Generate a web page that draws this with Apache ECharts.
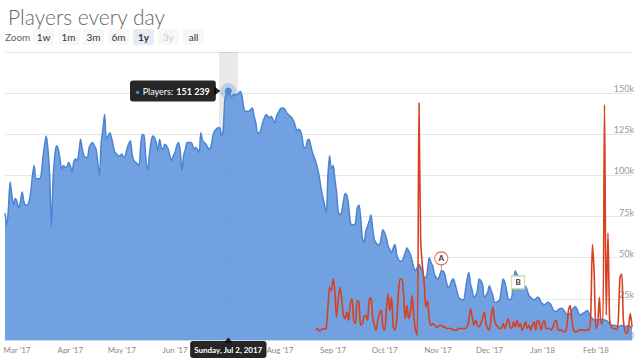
<!DOCTYPE html>
<html><head><meta charset="utf-8">
<script src="https://cdn.jsdelivr.net/npm/echarts@6/dist/echarts.min.js"></script>
<style>html,body{margin:0;padding:0;background:#fff}#c{width:640px;height:362px}</style>
</head><body><div id="c"></div>
<script>
// ---------- data ----------
const startDate = '2017-02-22';   // first day shown (1y range)
const players = [
77000,70000,80000,96000,88000,82000,86000,84000,80000,84000,
90000,84000,82000,82000,84000,90000,100000,106000,98000,98000,
98000,100000,110000,118000,124000,116000,100000,69000,98000,112000,
118000,116000,110000,104000,106000,105000,105000,108000,106000,102000,
108000,110000,109000,114000,122000,116000,112000,111000,111000,117000,
119000,120000,118000,116000,108000,100000,120000,128000,137000,122000,
124000,126000,123000,118000,114000,113000,112000,112000,113000,111000,
112000,116000,119000,121000,113000,109000,108000,107000,106000,118000,
125000,124000,110000,103000,112000,120000,124000,123000,120000,115000,
122000,117000,116000,119000,118000,116000,112000,109000,112000,114000,
118000,120000,115000,103000,112000,116000,120000,120000,120000,119000,
116000,117000,116000,114000,126000,121000,120000,119000,117000,116000,
118000,124000,127000,128000,129000,129000,124000,127000,146000,150000,
151239,149000,148000,149000,149000,149000,150000,151000,148000,141000,
139000,139000,139000,140000,141000,136000,132000,126000,126000,128000,
132000,135000,137000,136000,135000,136000,134000,132000,136000,138000,
140000,141000,141000,140000,138000,137000,136000,135000,133000,130000,
127000,128000,127000,123000,117000,117000,121000,122000,118000,114000,
111000,108000,104000,99000,92000,87000,82000,77000,100000,112000,
104000,106000,98000,90000,78000,76000,78000,84000,89000,88000,
82000,72000,70000,70000,71000,80000,82000,75000,62000,59000,
66000,69000,72000,76000,68000,61000,59000,58000,58000,62000,
67000,65000,62000,57000,55000,53000,56000,58000,52000,49000,
48000,48000,50000,53000,56000,54000,52000,48000,44000,42000,
44000,46000,44000,42000,38000,38000,43000,50000,47000,45000,
40000,38000,37000,39000,42000,42000,40000,35000,32000,33000,
36000,37000,34000,30000,26000,25000,24500,24500,30000,37000,
41000,34000,30000,26000,27000,30000,37000,36000,34000,26000,
27000,29000,33000,30000,27000,23000,23000,23500,24500,31000,
37000,35000,30000,25000,24500,26000,34000,42000,40000,37500,
37000,36000,32000,32500,30000,27000,26000,25000,24500,25000,
26000,25500,23000,22000,21500,22000,23000,22500,21000,18500,
17500,17500,18300,19000,19300,18500,17000,15500,15500,16300,
18000,19500,20300,18800,16000,15200,16000,16500,17300,18000,
16000,14200,13000,12200,12500,12200,12500,12600,12400,12200,
11800,11200,10000,9000,9000,9000,8500,8000,8500,9000,
8500,8000,8500,9000,8000,7000
];
const viewersStartDate = '2017-08-22';
const viewers = [
6000,7000,5500,6000,7000,6500,7000,20000,32000,30000,
37000,30000,14000,25000,32000,25000,15000,13000,17000,12000,
22000,25000,12000,10000,24000,23000,9000,10000,14000,15000,
12000,24000,26000,14000,9000,6000,12000,16000,18000,8000,
6000,18000,28000,18000,26000,8000,6000,12000,28000,37000,
37000,28000,13000,21000,13000,17000,27000,14000,6000,3000,
144000,60000,45000,35000,20000,24000,12000,9000,10000,9000,
8000,8000,9000,9000,8000,8000,7000,7000,7000,7000,
6000,6000,6000,7000,7000,7000,7000,7000,8000,12000,
19000,14000,9000,12000,9000,8000,10000,13000,17000,10000,
7000,6000,14000,20000,12000,9000,8000,7000,7000,10000,
7000,10000,13000,8000,7000,11000,8000,12000,8000,10000,
6000,8000,11000,7000,9000,6000,9000,11000,6000,12000,
11000,6000,10000,12000,7000,7000,7000,6000,8000,11000,
12000,6000,6000,6000,5000,5000,8000,18000,21000,12000,
6000,5000,5000,6000,6000,6000,6000,5700,6500,6000,
16000,58000,40000,7000,10000,26000,10000,10000,143000,15000,
65000,12000,8000,7000,7000,6000,12000,38000,40000,12000,
5000,4000,8000,16000,8000
];
const monthTickLabels = {
  '2017-03':"Mar '17",'2017-04':"Apr '17",'2017-05':"May '17",'2017-06':"Jun '17",
  '2017-07':"Jul '17",'2017-08':"Aug '17",'2017-09':"Sep '17",'2017-10':"Oct '17",
  '2017-11':"Nov '17",'2017-12':"Dec '17",'2018-01':"Jan '18",'2018-02':"Feb '18"
};
const yTicks = [0,25000,50000,75000,100000,125000,150000,175000];
const highlightDate = '2017-07-02';
const flagDates = ['2017-11-03','2017-12-14'];
const flagTitles = ['A','B'];
const flagValues = [42000, 28000];
const zoomButtons = ['1w','1m','3m','6m','1y','3y','all'];
const zoomSelected = '1y';
const zoomDisabled = ['3y'];
const dayNames = ['Sunday','Monday','Tuesday','Wednesday','Thursday','Friday','Saturday'];
const monNames = ['Jan','Feb','Mar','Apr','May','Jun','Jul','Aug','Sep','Oct','Nov','Dec'];

// ---------- build ----------
function iso(d){return d.toISOString().slice(0,10);}
const dates = [];
{ let d = new Date(startDate+'T00:00:00Z');
  for (let i=0;i<players.length;i++){ dates.push(iso(d)); d = new Date(d.getTime()+86400000); } }
const vStart = dates.indexOf(viewersStartDate);
const viewerData = dates.map((_,i)=> (i>=vStart && i-vStart<viewers.length) ? viewers[i-vStart] : null);
const hiIdx = dates.indexOf(highlightDate);
const hiVal = players[hiIdx];
function fmtNum(v){return String(v).replace(/\B(?=(\d{3})+(?!\d))/g,' ');}
function fmtDate(s){const d=new Date(s+'T00:00:00Z');return dayNames[d.getUTCDay()]+', '+monNames[d.getUTCMonth()]+' '+d.getUTCDate()+', '+d.getUTCFullYear();}

const FONT = 'Lato, "Open Sans", sans-serif';
const graphics = [];
graphics.push({type:'text', left:5, top:32, style:{text:'Zoom', fill:'#666', font:'10px '+FONT}});
zoomButtons.forEach((b,i)=>{
  const x = 33 + i*25;
  const sel = b===zoomSelected, dis = zoomDisabled.includes(b);
  graphics.push({type:'rect', shape:{x:x, y:29, width:21, height:16, r:2}, style:{fill: sel?'#e6ebf5':'#f7f7f7'}});
  graphics.push({type:'text', x:x+10.5, y:37, style:{text:b, fill: dis?'#cccccc':'#333', font:(sel?'bold ':'')+'10px '+FONT, textAlign:'center', textVerticalAlign:'middle'}});
});

const markData = [
  {coord:[highlightDate, hiVal], symbol:'circle', symbolSize:16, itemStyle:{color:'rgba(79,135,212,0.25)'}, label:{show:false}},
  {coord:[highlightDate, hiVal], symbol:'triangle', symbolSize:[9,6], symbolRotate:-90, symbolOffset:[-11,0], itemStyle:{color:'rgba(0,0,0,0.85)'}, label:{show:false}},
  {coord:[highlightDate, hiVal], symbol:'circle', symbolSize:7, itemStyle:{color:'#4f87d4'},
    label:{show:true, position:'left', distance:9,
      formatter:'{s|■} {a|Players:} {b|'+fmtNum(hiVal)+'}',
      backgroundColor:'rgba(0,0,0,0.85)', padding:[5,6,4,6], borderRadius:3,
      rich:{s:{color:'#4f87d4', fontSize:6, fontFamily:FONT}, a:{color:'#fff', fontSize:9, fontFamily:FONT}, b:{color:'#fff', fontSize:9, fontWeight:'bold', fontFamily:FONT}}}},
  {coord:[highlightDate, 0], symbol:'triangle', symbolSize:[8,5], symbolOffset:[0,0], itemStyle:{color:'rgba(0,0,0,0.85)'}, label:{show:false}},
  {coord:[flagDates[0], flagValues[0]], symbol:'path://M6.5,0 A6.5,6.5 0 1 1 6.49,0 Z M6.5,13 L6.5,19', symbolSize:[13,19], symbolOffset:[0,-9.5],
    itemStyle:{color:'#fff', borderColor:'#e0694a', borderWidth:1},
    label:{show:true, position:'inside', offset:[0,-3], formatter:flagTitles[0], color:'#333', fontSize:8, fontWeight:'bold', fontFamily:FONT}},
  {coord:[flagDates[1], flagValues[1]], symbol:'path://M0,0 L13,0 L13,13 L0,13 Z M0,13 L0,18', symbolSize:[13,18], symbolOffset:[6.5,-9],
    itemStyle:{color:'#fff', borderColor:'#c5cf86', borderWidth:1},
    label:{show:true, position:'inside', offset:[0,-2.5], formatter:flagTitles[1], color:'#333', fontSize:8, fontWeight:'bold', fontFamily:FONT}}
];

const chart = echarts.init(document.getElementById('c'), null, {renderer:'svg'});
chart.setOption({
  animation:false,
  textStyle:{fontFamily:FONT},
  title:{text:'Players every day', left:3, top:1, textStyle:{fontSize:21, fontWeight:300, color:'#666', fontFamily:FONT}},
  graphic: graphics,
  grid:{left:5, right:8, top:52, bottom:22},
  xAxis:{type:'category', data:dates, boundaryGap:false,
    axisLine:{show:true, lineStyle:{color:'#ccd6eb'}}, axisTick:{show:false},
    axisLabel:{interval:(i,v)=>v.slice(8)==='01', formatter:v=>monthTickLabels[v.slice(0,7)]||'', color:'#888', fontSize:8, margin:6},
    axisPointer:{show:true, status:'show', value:highlightDate, type:'line', snap:false, triggerTooltip:false, z:1,
      lineStyle:{color:'rgba(0,0,0,0.085)', width:19, type:'solid'},
      label:{show:true, formatter:p=>fmtDate(p.value), backgroundColor:'rgba(0,0,0,0.85)', color:'#fff', fontSize:8, fontWeight:'bold', padding:[5,4,4,4], margin:1, borderRadius:3, fontFamily:FONT},
      handle:{show:false}}
  },
  yAxis:{type:'value', position:'right', min:yTicks[0], max:yTicks[yTicks.length-1], interval:yTicks[1]-yTicks[0],
    axisLine:{show:false}, axisTick:{show:false},
    splitLine:{lineStyle:{color:'#e6e6e6'}},
    axisLabel:{inside:true, margin:-2, verticalAlign:'bottom', color:'#999', fontSize:9,
      formatter:v=> v===yTicks[yTicks.length-1] ? '' : (v===0 ? '0' : (v/1000)+'k')}
  },
  series:[
    {type:'line', name:'Players', data:players, smooth:0.3, symbol:'none', z:2,
     lineStyle:{color:'#4a84d2', width:1.5}, areaStyle:{color:'rgb(102,153,222)', opacity:0.92}},
    {type:'line', name:'Twitch viewers', data:viewerData, smooth:0.3, symbol:'none', z:3,
     lineStyle:{color:'#d8401f', width:1.6},
     markPoint:{data:markData, animation:false}}
  ]
});
</script></body></html>
